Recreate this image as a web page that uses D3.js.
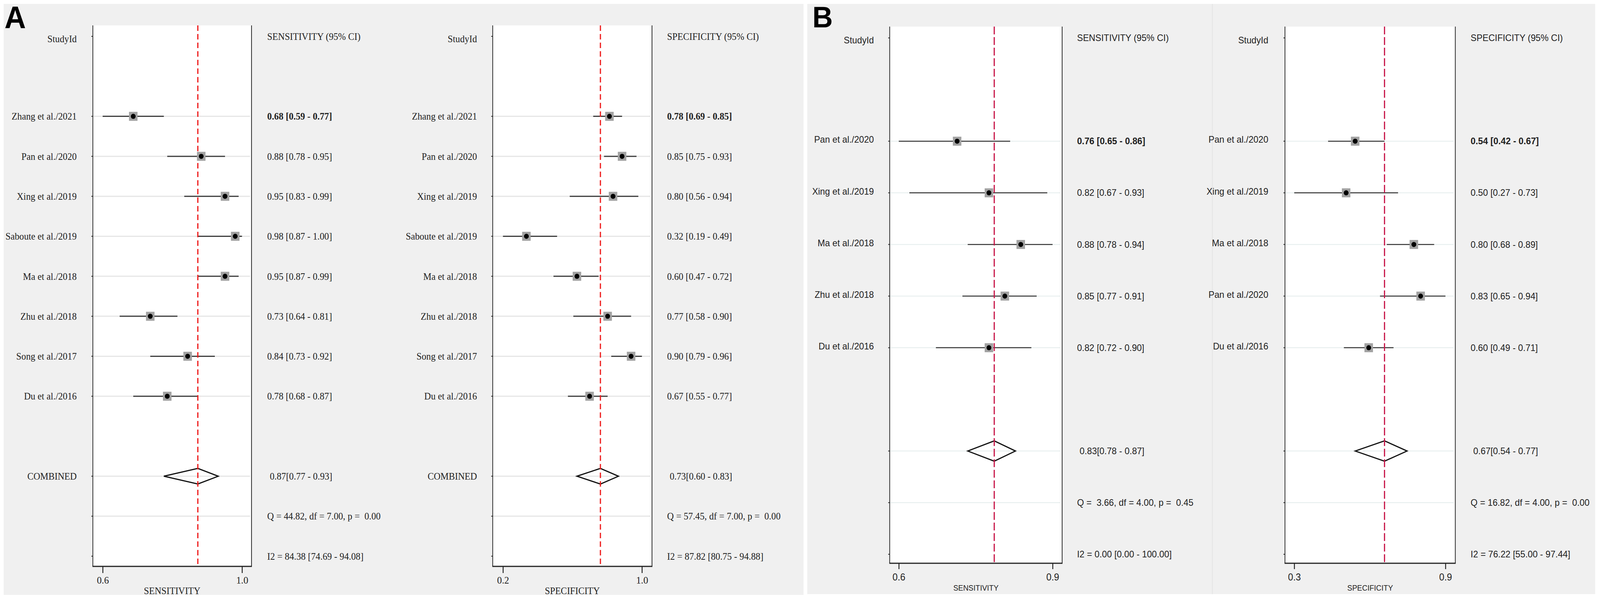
<!DOCTYPE html>
<html>
<head>
<meta charset="utf-8">
<script src="https://cdn.jsdelivr.net/npm/d3@7"></script>
<style>
  html, body { margin: 0; background: #fff; overflow: hidden; }
  svg { display: block; }
  text { white-space: pre; }
</style>
</head>
<body>
<svg id="fig"></svg>
<script>
// panel A - sensitivity / specificity by study
const studiesA = ["Zhang et al./2021", "Pan et al./2020", "Xing et al./2019", "Saboute et al./2019",
                  "Ma et al./2018", "Zhu et al./2018", "Song et al./2017", "Du et al./2016"];
const sensA   = [0.68, 0.88, 0.95, 0.98, 0.95, 0.73, 0.84, 0.78];
const sensALo = [0.59, 0.78, 0.83, 0.87, 0.87, 0.64, 0.73, 0.68];
const sensAHi = [0.77, 0.95, 0.99, 1.00, 0.99, 0.81, 0.92, 0.87];
const specA   = [0.78, 0.85, 0.80, 0.32, 0.60, 0.77, 0.90, 0.67];
const specALo = [0.69, 0.75, 0.56, 0.19, 0.47, 0.58, 0.79, 0.55];
const specAHi = [0.85, 0.93, 0.94, 0.49, 0.72, 0.90, 0.96, 0.77];
const pooledSensA = [0.87, 0.77, 0.93];
const pooledSpecA = [0.73, 0.60, 0.83];
const hetSensA = ["Q = 44.82, df = 7.00, p =  0.00", "I2 = 84.38 [74.69 - 94.08]"];
const hetSpecA = ["Q = 57.45, df = 7.00, p =  0.00", "I2 = 87.82 [80.75 - 94.88]"];
const tickLabSensA = ["0.6", "1.0"];
const tickLabSpecA = ["0.2", "1.0"];

// panel B
const studiesBSens = ["Pan et al./2020", "Xing et al./2019", "Ma et al./2018", "Zhu et al./2018", "Du et al./2016"];
const studiesBSpec = ["Pan et al./2020", "Xing et al./2019", "Ma et al./2018", "Pan et al./2020", "Du et al./2016"];
const sensB   = [0.76, 0.82, 0.88, 0.85, 0.82];
const sensBLo = [0.65, 0.67, 0.78, 0.77, 0.72];
const sensBHi = [0.86, 0.93, 0.94, 0.91, 0.90];
const specB   = [0.54, 0.50, 0.80, 0.83, 0.60];
const specBLo = [0.42, 0.27, 0.68, 0.65, 0.49];
const specBHi = [0.67, 0.73, 0.89, 0.94, 0.71];
const pooledSensB = [0.83, 0.78, 0.87];
const pooledSpecB = [0.67, 0.54, 0.77];
const hetSensB = ["Q =  3.66, df = 4.00, p =  0.45", "I2 = 0.00 [0.00 - 100.00]"];
const hetSpecB = ["Q = 16.82, df = 4.00, p =  0.00", "I2 = 76.22 [55.00 - 97.44]"];
const tickLabSensB = ["0.6", "0.9"];
const tickLabSpecB = ["0.3", "0.9"];

// drawing is done in a 4317x1535 box, stretched to whatever window we get
const svg = d3.select("#fig")
  .attr("width", window.innerWidth).attr("height", window.innerHeight)
  .attr("viewBox", "0 0 4317 1535").attr("preserveAspectRatio", "none");
const f2 = d3.format(".2f");

svg.append("rect").attr("width", 4317).attr("height", 1535).attr("fill", "#fff");
// grey panel backgrounds
svg.append("rect").attr("x", 10).attr("y", 10).attr("width", 2158).attr("height", 1512).attr("fill", "#f0f0f0");
svg.append("rect").attr("x", 2178).attr("y", 10).attr("width", 2126).attr("height", 1510).attr("fill", "#f0f0f0");
// faint seam between the two B graphs
svg.append("line").attr("x1", 3271).attr("x2", 3271).attr("y1", 10).attr("y2", 1520)
  .attr("stroke", "#e4e4e4").attr("stroke-width", 2);

svg.append("text").attr("x", 12).attr("y", 72).text("A")
  .attr("font-family", "Liberation Sans").attr("font-weight", "bold").attr("font-size", 80);
svg.append("text").attr("x", 2192).attr("y", 70).text("B")
  .attr("font-family", "Liberation Sans").attr("font-weight", "bold").attr("font-size", 76);

const styleA = {font: "Liberation Serif", size: 25, red: "#ee1b1b", dash: "14,8", ci: "#3c3c3c", ciW: 3,
  grid: "#e6e6e6", gridW: 3, dH: 20, tickLen: 17, tickPad: 9, titleSize: 25, top: 65, axisY: 1449,
  headerY: 93, step: 102.3, titleY: 1520, combined: true, labelDy: 0};
const styleB = {font: "Liberation Sans", size: 24, red: "#c8174a", dash: "20,7", ci: "#333", ciW: 2.5,
  grid: "#e4ecec", gridW: 2, dH: 26, tickLen: 15, tickPad: 11, titleSize: 20, top: 68, axisY: 1441,
  headerY: 97, step: 132.1, titleY: 1511, combined: false, labelDy: -4};

function forest(cfg, st) {
  const g = svg.append("g");
  const n = cfg.names.length;
  const x = d3.scaleLinear().domain([d3.min(cfg.lo), d3.max(cfg.hi)]).range(cfg.tickRange);
  const y = d3.scaleLinear().domain([0, 1]).range([st.headerY, st.headerY + st.step]);
  const rows = d3.range(n).map(i => ({name: cfg.names[i], v: cfg.est[i], lo: cfg.lo[i], hi: cfg.hi[i], r: i + 2}));
  const pooledRow = n + 3, qRow = n + 4, i2Row = n + 5;
  const [bx0, bx1] = cfg.box;

  g.append("rect").attr("x", bx0).attr("y", st.top).attr("width", bx1 - bx0)
    .attr("height", st.axisY - st.top).attr("fill", "#fff");

  // light row guides
  g.selectAll(".guide").data(rows.map(d => d.r).concat([pooledRow, qRow])).join("line")
    .attr("x1", bx0).attr("x2", bx1 - 4).attr("y1", d => y(d)).attr("y2", d => y(d))
    .attr("stroke", st.grid).attr("stroke-width", st.gridW);

  // small ticks on left frame
  g.selectAll(".ltick").data([0].concat(rows.map(d => d.r), [pooledRow, qRow, i2Row])).join("line")
    .attr("x1", bx0 - 4).attr("x2", bx0).attr("y1", d => y(d)).attr("y2", d => y(d))
    .attr("stroke", "#222").attr("stroke-width", 2);

  // confidence intervals
  g.selectAll(".ci").data(rows).join("line")
    .attr("x1", d => x(d.lo)).attr("x2", d => x(d.hi)).attr("y1", d => y(d.r)).attr("y2", d => y(d.r))
    .attr("stroke", st.ci).attr("stroke-width", st.ciW);

  // pooled diamond
  const [pv, plo, phi] = cfg.pooled;
  const py = y(pooledRow);
  g.append("path")
    .attr("d", `M${x(plo)},${py} L${x(pv)},${py - st.dH} L${x(phi)},${py} L${x(pv)},${py + st.dH} Z`)
    .attr("fill", "none").attr("stroke", "#111").attr("stroke-width", 3).attr("stroke-linejoin", "miter");

  // reference line at pooled estimate
  g.append("line").attr("x1", x(pv)).attr("x2", x(pv)).attr("y1", st.top).attr("y2", st.axisY)
    .attr("stroke", st.red).attr("stroke-width", 3.2).attr("stroke-dasharray", st.dash);

  g.selectAll(".box").data(rows).join("rect")
    .attr("x", d => x(d.v) - 11.5).attr("y", d => y(d.r) - 11.5).attr("width", 23).attr("height", 23)
    .attr("fill", "#a2a2a2");
  g.selectAll(".dot").data(rows).join("circle")
    .attr("cx", d => x(d.v)).attr("cy", d => y(d.r)).attr("r", 6.5).attr("fill", "#000");

  // frame
  g.append("line").attr("x1", bx0).attr("x2", bx0).attr("y1", st.top).attr("y2", st.axisY)
    .attr("stroke", "#222").attr("stroke-width", 2);
  g.append("line").attr("x1", bx1).attr("x2", bx1).attr("y1", st.top).attr("y2", st.axisY)
    .attr("stroke", "#222").attr("stroke-width", 2);
  g.append("line").attr("x1", bx0 - 1).attr("x2", bx1 + 1).attr("y1", st.axisY).attr("y2", st.axisY)
    .attr("stroke", "#222").attr("stroke-width", 3);

  const ax = g.append("g").attr("transform", `translate(0,${st.axisY})`)
    .call(d3.axisBottom(x).tickValues(x.domain()).tickFormat((d, i) => cfg.tickLabels[i])
      .tickSize(st.tickLen).tickPadding(st.tickPad));
  ax.select(".domain").remove();
  ax.selectAll("line").attr("stroke", "#222").attr("stroke-width", 2.5);
  ax.selectAll("text").attr("font-family", st.font).attr("font-size", st.size + 1).attr("fill", "#222");

  g.append("text").attr("x", (bx0 + bx1) / 2).attr("y", st.titleY).attr("text-anchor", "middle")
    .attr("font-family", st.font).attr("font-size", st.titleSize).attr("fill", "#222").text(cfg.title);

  // text columns
  const txt = (sel) => sel.attr("font-family", st.font).attr("font-size", st.size).attr("fill", "#222")
    .attr("dominant-baseline", "central");
  txt(g.append("text").attr("x", cfg.labelRight).attr("y", y(0) + 6).attr("text-anchor", "end").text("StudyId"));
  txt(g.append("text").attr("x", cfg.valueX).attr("y", y(0)).text(cfg.title + " (95% CI)"));
  txt(g.selectAll(".lab").data(rows).join("text")
    .attr("x", cfg.labelRight).attr("y", d => y(d.r) + st.labelDy).attr("text-anchor", "end").text(d => d.name));
  txt(g.selectAll(".val").data(rows).join("text")
    .attr("x", cfg.valueX).attr("y", d => y(d.r)).attr("font-weight", (d, i) => i === 0 ? "bold" : null)
    .text(d => `${f2(d.v)} [${f2(d.lo)} - ${f2(d.hi)}]`));
  if (st.combined) {
    txt(g.append("text").attr("x", cfg.labelRight).attr("y", py).attr("text-anchor", "end").text("COMBINED"));
  }
  txt(g.append("text").attr("x", cfg.valueX + 7).attr("y", py).text(`${f2(pv)}[${f2(plo)} - ${f2(phi)}]`));
  txt(g.append("text").attr("x", cfg.valueX).attr("y", y(qRow)).text(cfg.het[0]));
  txt(g.append("text").attr("x", cfg.valueX).attr("y", y(i2Row)).text(cfg.het[1]));
}

forest({names: studiesA, est: sensA, lo: sensALo, hi: sensAHi, pooled: pooledSensA, het: hetSensA,
  tickLabels: tickLabSensA, title: "SENSITIVITY", box: [250.5, 678.6], tickRange: [277, 653],
  labelRight: 207, valueX: 721}, styleA);
forest({names: studiesA, est: specA, lo: specALo, hi: specAHi, pooled: pooledSpecA, het: hetSpecA,
  tickLabels: tickLabSpecA, title: "SPECIFICITY", box: [1329.4, 1759.2], tickRange: [1357, 1732],
  labelRight: 1287, valueX: 1800}, styleA);
forest({names: studiesBSens, est: sensB, lo: sensBLo, hi: sensBHi, pooled: pooledSensB, het: hetSensB,
  tickLabels: tickLabSensB, title: "SENSITIVITY", box: [2400.5, 2865.8], tickRange: [2425, 2840],
  labelRight: 2358, valueX: 2906}, styleB);
forest({names: studiesBSpec, est: specB, lo: specBLo, hi: specBHi, pooled: pooledSpecB, het: hetSpecB,
  tickLabels: tickLabSpecB, title: "SPECIFICITY", box: [3467, 3926.6], tickRange: [3492, 3900],
  labelRight: 3422, valueX: 3968}, styleB);
</script>
</body>
</html>
